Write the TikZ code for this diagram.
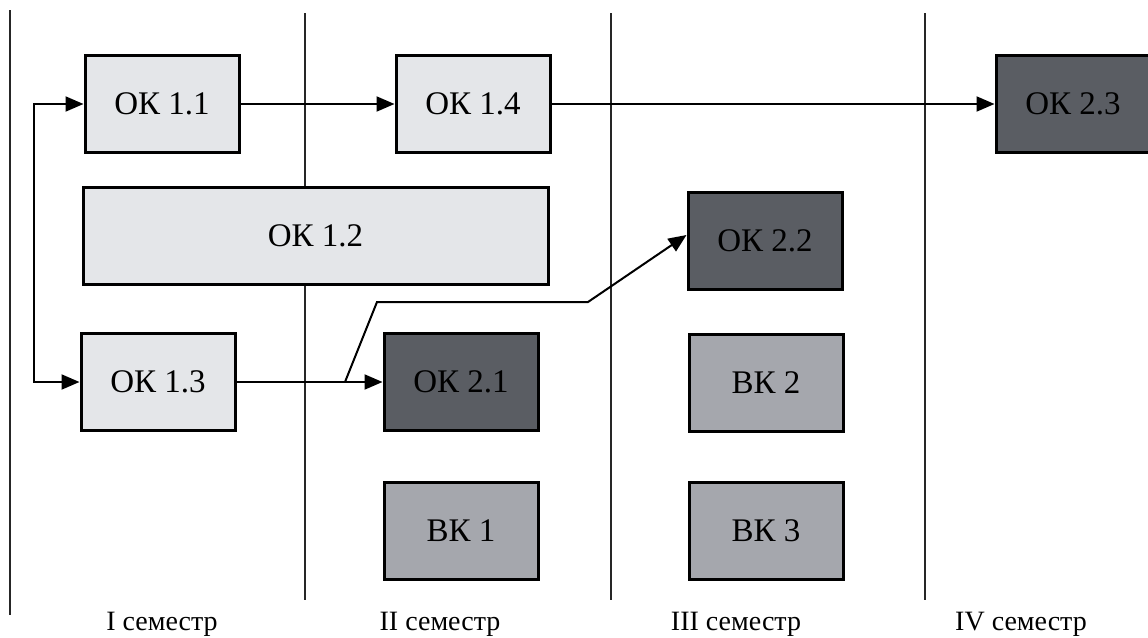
\documentclass[tikz,border=0pt]{standalone}
\usepackage{fontspec}
\setmainfont{Liberation Serif}
\usetikzlibrary{arrows.meta}
\definecolor{okfill}{HTML}{E4E6E9}
\definecolor{darkfill}{HTML}{5A5D63}
\definecolor{vkfill}{HTML}{A5A7AD}
\tikzset{
  kbox/.style={draw=black, line width=3pt, inner sep=0pt,
    minimum width=154pt, minimum height=97pt,
    font=\fontsize{33}{36}\selectfont},
  okbox/.style={kbox, fill=okfill},
  darkbox/.style={kbox, fill=darkfill},
  vkbox/.style={kbox, fill=vkfill},
  sep/.style={line width=1.4pt, black!85},
  tip/.style={Triangle[length=18pt,width=15pt]},
  link/.style={line width=2pt, -{Triangle[length=18pt,width=15pt]}},
  semlabel/.style={anchor=base, font=\fontsize{28}{32}\selectfont}
}
\begin{document}
\begin{tikzpicture}[x=1pt,y=-1pt]
                        \useasboundingbox (0,0) rectangle (1148,637);
                        % semester borders
                        \draw[sep] (10,10) -- (10,615);
                        \draw[sep] (305,13) -- (305,600);
                        \draw[sep] (611,13) -- (611,600);
                        \draw[sep] (925,13) -- (925,600);
                        % components
                        \node[okbox] (ok11) at (162,104) {ОК 1.1};
                        \node[okbox] (ok14) at (473,104) {ОК 1.4};
                        \node[darkbox] (ok23) at (1073,104) {ОК 2.3};
                        \node[okbox, minimum width=465pt] (ok12) at (315.5,235.5) {ОК 1.2};
                        \node[darkbox] (ok22) at (765,241) {ОК 2.2};
                        \node[okbox] (ok13) at (158,382) {ОК 1.3};
                        \node[darkbox] (ok21) at (461,382) {ОК 2.1};
                        \node[vkbox] (vk2) at (766,383) {ВК 2};
                        \node[vkbox] (vk1) at (461,531) {ВК 1};
                        \node[vkbox] (vk3) at (766,531) {ВК 3};
                        % links
                        \coordinate (lt) at (34,104);
                        \coordinate (lb) at (34,382);
                        \draw[line width=2pt, {Triangle[length=18pt,width=15pt]}-{Triangle[length=18pt,width=15pt]}] (ok11.west) -- (lt) -- (lb) -- (ok13.west);
                        \draw[link] (ok11.east) -- (ok14.west);
                        \draw[link] (ok14.east) -- (ok23.west);
                        \draw[link] (ok13.east) -- (ok21.west);
                        \coordinate (br) at (345,382);
                        \coordinate (k1) at (377,302);
                        \coordinate (k2) at (588,302);
                        \draw[link] (br) -- (k1) -- (k2) -- ([yshift=6pt]ok22.west);
                        % semesters
                        \node[semlabel] (s1) at (162,630) {I семестр};
                        \node[semlabel] (s2) at (440,630) {II семестр};
                        \node[semlabel] (s3) at (736,630) {III семестр};
                        \node[semlabel] (s4) at (1021,630) {IV семестр};
                     \end{tikzpicture}
\end{document}
